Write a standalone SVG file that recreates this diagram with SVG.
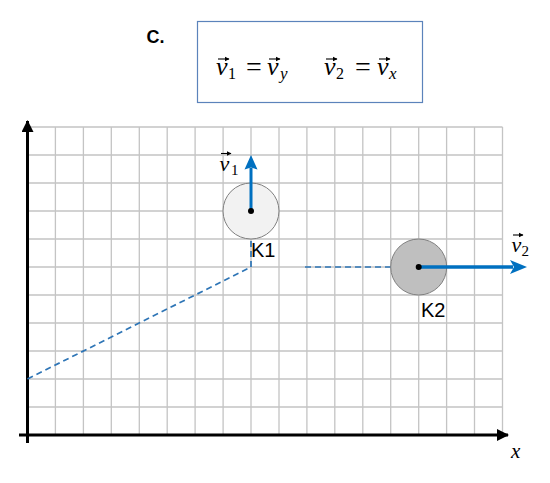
<svg xmlns="http://www.w3.org/2000/svg" width="550" height="483" viewBox="0 0 550 483">
<style>
.grid{stroke:#c4c4c4;stroke-width:1.3;fill:none}
.axis{stroke:#000;stroke-width:3;fill:none}
.dash{stroke:#2e75b6;stroke-width:1.7;fill:none;stroke-dasharray:6 4}
.vec{stroke:#0070c0;fill:none}
.math{font-family:"Liberation Serif","DejaVu Serif",serif;font-style:italic;fill:#000}
.up{font-family:"Liberation Serif","DejaVu Serif",serif;fill:#000}
.lbl{font-family:"Liberation Sans",Arial,sans-serif;font-size:20px;fill:#000}
.sa{stroke:#000;stroke-width:1.1;fill:none}
</style>
<defs>
<marker id="ah" markerUnits="userSpaceOnUse" markerWidth="12" markerHeight="12" refX="11" refY="6" orient="auto">
<path d="M0,0 L12,6 L0,12 Z" fill="#000"/>
</marker>
<marker id="sm" markerUnits="userSpaceOnUse" markerWidth="5" markerHeight="6" refX="4.5" refY="3" orient="auto">
<path d="M0,0.5 L5,3 L0,5.5 Z" fill="#000"/>
</marker>
</defs>

<g id="grid">
<path class="grid" d="M55.4 127V435M83.4 127V435M111.3 127V435M139.3 127V435M167.2 127V435M195.1 127V435M223.1 127V435M251 127V435M279 127V435M306.9 127V435M334.8 127V435M362.8 127V435M390.7 127V435M418.7 127V435M446.6 127V435M474.5 127V435M502.5 127V435"/>
<path class="grid" d="M27.5 127H502.5M27.5 155H502.5M27.5 183H502.5M27.5 211H502.5M27.5 239H502.5M27.5 267H502.5M27.5 295H502.5M27.5 323H502.5M27.5 351H502.5M27.5 379H502.5M27.5 407H502.5"/>
</g>

<g id="axes">
<path class="axis" d="M27.5 443V121" marker-end="url(#ah)"/>
<path class="axis" d="M19 435H508" marker-end="url(#ah)"/>
<text class="math" x="511" y="458" font-size="21">x</text>
</g>

<g id="connectors">
<path class="dash" d="M251 211V267L27.5 379"/>
<path class="dash" d="M305 267H418.7"/>
</g>

<g id="title">
<text x="146.5" y="42.5" font-family="Liberation Sans,Arial,sans-serif" font-weight="bold" font-size="18">C.</text>
</g>

<g id="formula">
<rect x="197.5" y="21.5" width="225" height="81" fill="#fff" stroke="#5b83bb" stroke-width="1.2"/>
<text class="math" x="216" y="75" font-size="26">v</text>
<text class="up" x="228" y="79" font-size="16">1</text>
<text class="up" x="254" y="76" font-size="28" text-anchor="middle">=</text>
<text class="math" x="267" y="75" font-size="26">v</text>
<text class="math" x="280" y="79" font-size="17">y</text>
<text class="math" x="324" y="75" font-size="26">v</text>
<text class="up" x="336" y="79" font-size="16">2</text>
<text class="up" x="363" y="76" font-size="28" text-anchor="middle">=</text>
<text class="math" x="377" y="75" font-size="26">v</text>
<text class="math" x="389" y="79" font-size="17">x</text>
<path class="sa" d="M218 59H229" marker-end="url(#sm)"/>
<path class="sa" d="M269 59H280" marker-end="url(#sm)"/>
<path class="sa" d="M326 59H337" marker-end="url(#sm)"/>
<path class="sa" d="M379 59H390" marker-end="url(#sm)"/>
</g>

<g id="K1">
<circle cx="251" cy="211" r="28" fill="#f2f2f2" stroke="#7f7f7f" stroke-width="1"/>
<path class="vec" stroke-width="3" d="M251 211V168"/>
<path d="M251 155L257.5 169.5L251 167.5L244.5 169.5Z" fill="#0070c0"/>
<circle cx="251" cy="211" r="3" fill="#000"/>
<text class="lbl" x="251" y="257">K1</text>
<text class="math" x="219.5" y="171" font-size="22">v</text>
<text class="up" x="231" y="174.5" font-size="15">1</text>
<path class="sa" d="M221 153.5H231" marker-end="url(#sm)"/>
</g>

<g id="K2">
<circle cx="418.7" cy="267" r="28" fill="#bfbfbf" stroke="#7f7f7f" stroke-width="1"/>
<path class="vec" stroke-width="3.5" d="M418.7 267H513"/>
<path d="M527 267L510 260L514 267L510 274Z" fill="#0070c0"/>
<circle cx="418.7" cy="267" r="3" fill="#000"/>
<text class="lbl" x="421" y="317">K2</text>
<text class="math" x="511.5" y="252" font-size="22">v</text>
<text class="up" x="521.5" y="255.5" font-size="15">2</text>
<path class="sa" d="M513 235H523" marker-end="url(#sm)"/>
</g>
</svg>
